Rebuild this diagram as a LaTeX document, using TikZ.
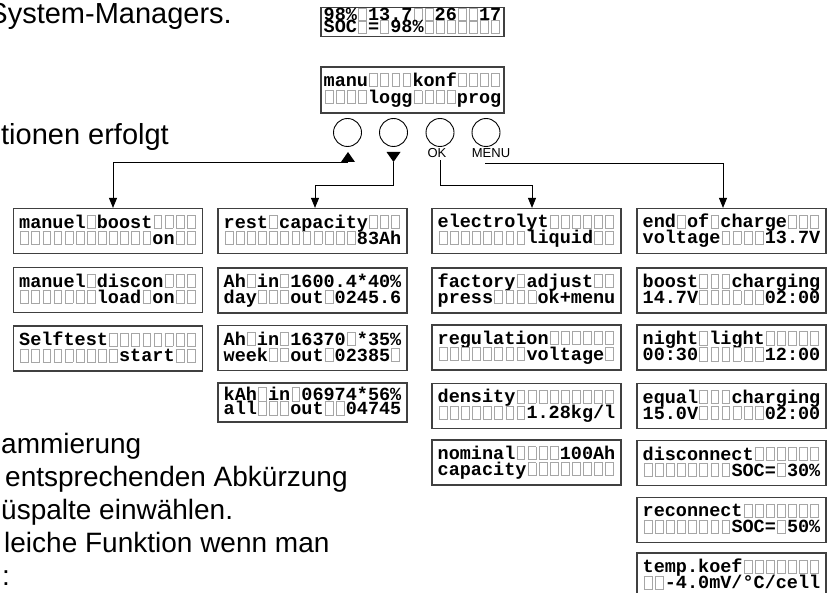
\documentclass[tikz,border=0pt]{standalone}
\usepackage{fontspec}
\setmainfont{Liberation Sans}
\newfontfamily\lcdfont{Liberation Mono}
\usetikzlibrary{arrows.meta,calc}
\definecolor{cellgray}{HTML}{A6A6A6}
\definecolor{framegray}{HTML}{404040}
\newlength\lcdcw \newlength\lcdch \newlength\lcdiw
\makeatletter
\def\lcd@stop{\lcd@stop}
\newcommand\lcdblank{\makebox[\lcdcw]{\textcolor{cellgray}{\setlength\fboxsep{0pt}\setlength\fboxrule{0.9pt}\fbox{\rule{0pt}{\lcdch}\hspace*{\lcdiw}}}}}
\def\lcd#1{\settowidth\lcdcw{0}\settoheight\lcdch{H}%
  \lcdiw=\lcdcw \advance\lcdiw by -4.2pt
  \lcd@loop#1\lcd@stop}
\def\lcd@loop#1{\ifx#1\lcd@stop\else\ifx#1_\lcdblank\else#1\fi\expandafter\lcd@loop\fi}
\makeatother
\newcommand\lcdpair[3]{\vbox{\baselineskip=#1pt\lineskiplimit=-100pt\lineskip=0pt
  \hbox{\vrule width0pt height0.68em depth0.18em\lcd{#2}}%
  \hbox{\vrule width0pt height0.68em depth0.18em\lcd{#3}}}}
\begin{document}
\begin{tikzpicture}[x=1pt,y=-1pt,
  lcd/.style={draw=framegray, fill=white, line width=1.2pt, inner sep=0pt, minimum width=189pt,
    minimum height=45pt, font=\lcdfont\bfseries\fontsize{18.5}{20}\selectfont},
  btn/.style={circle, draw, line width=0.9pt, minimum size=28pt, inner sep=0pt},
  tri up/.style={minimum width=14pt, minimum height=10pt, inner sep=0pt,
    path picture={\fill (path picture bounding box.south west) -- (path picture bounding box.south east) -- (path picture bounding box.north) -- cycle;}},
  tri down/.style={minimum width=14pt, minimum height=10pt, inner sep=0pt,
    path picture={\fill (path picture bounding box.north west) -- (path picture bounding box.north east) -- (path picture bounding box.south) -- cycle;}},
  conn/.style={line width=0.9pt, -{Triangle[length=10pt,width=8pt]}},
  btnlabel/.style={font=\fontsize{13}{15}\selectfont, inner sep=0pt, anchor=base},
  prose/.style={font=\fontsize{28}{32}\selectfont, inner sep=0pt},
  proseb/.style={font=\fontsize{29}{32}\selectfont, inner sep=0pt}]
\useasboundingbox (0,0) rectangle (832,593);
\clip (0,0) rectangle (832,593);

% prose fragments
\node[proseb, anchor=base east] (t1) at (232,24) {System-Managers.};
\node[proseb, anchor=base east] (t2) at (169,145) {tionen erfolgt};
\node[prose, anchor=base west] (t3) at (1,453) {ammierung};
\node[prose, anchor=base west] (t4) at (5,486) {entsprechenden Abkürzung};
\node[prose, anchor=base west] (t5) at (1,519) {üspalte einwählen.};
\node[prose, anchor=base west] (t6) at (4,552) {leiche Funktion wenn man};
\node[prose, anchor=base west] (t7) at (2,585) {:};

% top displays
\node[lcd, minimum width=183pt, minimum height=28pt] (disp) at (412.5,22) {\lcdpair{12}{98\%_13.7__26__17}{SOC_=_98\%_______}};
\node[lcd, minimum width=183pt, minimum height=46pt] (mainmenu) at (412.5,90) {\lcdpair{17}{manu____konf____}{____logg____prog}};

% buttons
\node[btn] (b1) at (347.5,132.5) {};
\node[btn] (b2) at (393.5,132.5) {};
\node[btn] (b3) at (440,132.5) {};
\node[btn] (b4) at (486,132.5) {};
\node[tri up] (tu) at (348,157) {};
\node[tri down] (td) at (393.5,157) {};
\node[btnlabel] (ok) at (437,158) {OK};
\node[btnlabel] (menu) at (491,158) {MENU};

% column 1
\node[lcd] (m1) at (108,231) {\lcdpair{16}{manuel_boost____}{____________on__}};
\node[lcd] (m2) at (108,290) {\lcdpair{16}{manuel_discon___}{_______load_on__}};
\node[lcd] (m3) at (108,348.5) {\lcdpair{16}{Selftest________}{_________start__}};

% column 2
\node[lcd] (r1) at (312.5,231) {\lcdpair{16}{rest_capacity___}{____________83Ah}};
\node[lcd] (r2) at (312.5,290.5) {\lcdpair{16}{Ah_in_1600.4*40\%}{day___out_0245.6}};
\node[lcd] (r3) at (312.5,348) {\lcdpair{16}{Ah_in_16370_*35\%}{week__out_02385_}};
\node[lcd, minimum height=39pt] (r4) at (312.5,402.5) {\lcdpair{14}{kAh_in_06974*56\%}{all___out__04745}};

% column 3
\node[lcd] (e1) at (526.5,231) {\lcdpair{16}{electrolyt______}{________liquid__}};
\node[lcd] (e2) at (526.5,290.5) {\lcdpair{16}{factory_adjust__}{press____ok+menu}};
\node[lcd] (e3) at (526.5,347.5) {\lcdpair{16}{regulation______}{________voltage_}};
\node[lcd] (e4) at (526.5,406) {\lcdpair{16}{density_________}{________1.28kg/l}};
\node[lcd] (e5) at (526.5,462.5) {\lcdpair{16}{nominal____100Ah}{capacity________}};

% column 4
\node[lcd] (c1) at (731.5,231) {\lcdpair{16}{end_of_charge___}{voltage____13.7V}};
\node[lcd] (c2) at (731.5,290.5) {\lcdpair{16}{boost___charging}{14.7V______02:00}};
\node[lcd] (c3) at (731.5,347.5) {\lcdpair{16}{night_light_____}{00:30______12:00}};
\node[lcd] (c4) at (731.5,406) {\lcdpair{16}{equal___charging}{15.0V______02:00}};
\node[lcd] (c5) at (731.5,463) {\lcdpair{16}{disconnect______}{________SOC=_30\%}};
\node[lcd] (c6) at (731.5,520) {\lcdpair{16}{reconnect_______}{________SOC=_50\%}};
\node[lcd] (c7) at (731.5,575.5) {\lcdpair{16}{temp.koef_______}{__-4.0mV/°C/cell}};

% connectors
\draw[conn] (tu.south) -| ([xshift=5pt]m1.north);
\draw[conn] (td.south) -- ++(0,23) -| ([xshift=2.5pt]r1.north);
\draw[conn] ([xshift=3pt,yshift=-2pt]ok.south) -- ++(0,25) -| ([xshift=5.5pt]e1.north);
\draw[conn] ([xshift=-6pt,yshift=-5pt]menu.south) -| ([xshift=-8.5pt]c1.north);
\end{tikzpicture}
\end{document}
